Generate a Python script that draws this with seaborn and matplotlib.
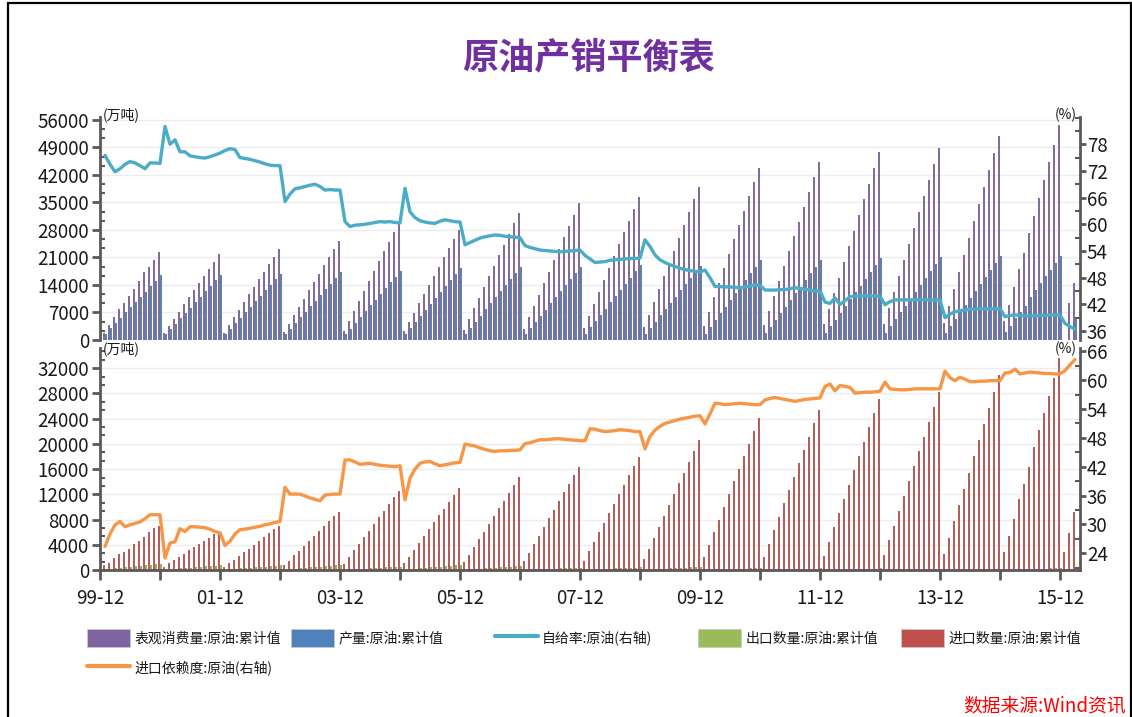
import matplotlib
matplotlib.use("Agg")
import matplotlib.pyplot as plt
import matplotlib.patches as mpatches
from matplotlib.lines import Line2D
from matplotlib.ticker import MultipleLocator
import numpy as np
import pandas as pd
import seaborn as sns

nan = np.nan

# monthly points, 2000-01 .. 2016-03
months = pd.period_range("2000-01", "2016-03", freq="M").strftime("%y-%m").tolist()

# 表观消费量:原油:累计值 (万吨)
consumption = [
    1850, 3820, 5940, 7800, 9500, 11200, 12980, 15100, 17230, 18660, 20360, 22470,
    1780, 3600, 5450, 7250, 9100, 10950, 12700, 14550, 16400, 18150, 19950, 21800,
    1900, 3850, 5800, 7700, 9650, 11600, 13500, 15450, 17400, 19300, 21250, 23150,
    2050, 4150, 6300, 8400, 10500, 12650, 14750, 16900, 19000, 21100, 23200, 25280,
    2400, 4900, 7450, 9950, 12450, 14950, 17500, 20000, 22550, 25050, 27550, 30100,
    2300, 4600, 6950, 9300, 11650, 14000, 16300, 18650, 21000, 23300, 25650, 28000,
    2650, 5350, 8050, 10750, 13450, 16200, 18900, 21600, 24300, 27000, 29700, 32400,
    2850, 5750, 8650, 11550, 14450, 17400, 20300, 23200, 26100, 29000, 31900, 34790,
    3000, 6050, 9100, 12150, 15200, 18250, 21300, 24350, 27400, 30400, 33450, 36480,
    3200, 6450, 9750, 13000, 16250, 19500, 22750, 26000, 29300, 32550, 35800, 39030,
    3600, 7250, 10950, 14600, 18250, 21900, 25600, 29250, 32900, 36550, 40200, 43860,
    3750, 7500, 11300, 15050, 18850, 22600, 26350, 30150, 33900, 37650, 41450, 45210,
    3950, 7950, 11950, 15900, 19900, 23900, 27850, 31850, 35800, 39800, 43800, 47760,
    4050, 8100, 12200, 16250, 20300, 24400, 28450, 32500, 36600, 40650, 44700, 48780,
    4300, 8650, 13000, 17300, 21650, 25950, 30300, 34600, 38950, 43250, 47600, 51920,
    4900, 8900, 13400, 18000, 22050, 27150, 31550, 36050, 40700, 45400, 49650, 54720,
    nan, 9500, 14430,
]

# 产量:原油:累计值 (万吨)
production = [
    1450, 2970, 4240, 5680, 7130, 8480, 9580, 10940, 12300, 13740, 15100, 16540,
    1400, 2750, 4150, 5500, 6900, 8250, 9650, 11000, 12400, 13800, 15150, 16540,
    1400, 2800, 4200, 5600, 7000, 8400, 9800, 11200, 12600, 14000, 15400, 16800,
    1450, 2850, 4300, 5750, 7150, 8600, 10050, 11500, 12900, 14350, 15800, 17220,
    1450, 2900, 4400, 5850, 7300, 8800, 10250, 11700, 13150, 14650, 16100, 17560,
    1500, 3050, 4550, 6100, 7600, 9100, 10650, 12150, 13700, 15200, 16700, 18240,
    1550, 3100, 4650, 6200, 7800, 9350, 10900, 12450, 14000, 15550, 17100, 18660,
    1550, 3100, 4650, 6200, 7750, 9300, 10900, 12450, 14000, 15550, 17100, 18660,
    1600, 3200, 4750, 6350, 7950, 9550, 11150, 12700, 14300, 15900, 17500, 19090,
    1550, 3100, 4700, 6250, 7850, 9450, 11050, 12650, 14200, 15800, 17350, 18920,
    1650, 3350, 5050, 6750, 8450, 10150, 11850, 13550, 15250, 16950, 18650, 20360,
    1700, 3400, 5100, 6800, 8500, 10200, 11900, 13600, 15250, 16950, 18650, 20360,
    1750, 3450, 5200, 6950, 8650, 10400, 12100, 13850, 15600, 17300, 19050, 20790,
    1750, 3500, 5250, 7000, 8750, 10500, 12250, 14000, 15750, 17500, 19300, 21050,
    1800, 3550, 5350, 7150, 8900, 10700, 12450, 14250, 16050, 17800, 19600, 21380,
    2100, 3560, 5510, 7030, 8740, 10860, 12730, 14430, 16290, 17820, 19680, 21460,
    nan, nan, 5300,
]

# 出口数量:原油:累计值 (万吨)
exports = [
    90, 170, 260, 340, 430, 520, 600, 690, 780, 860, 950, 1030,
    60, 130, 190, 250, 320, 380, 440, 510, 570, 630, 700, 760,
    60, 120, 180, 240, 300, 360, 420, 480, 540, 600, 660, 720,
    70, 130, 200, 270, 340, 400, 470, 540, 610, 680, 740, 810,
    50, 90, 140, 180, 230, 280, 320, 370, 410, 460, 500, 550,
    70, 130, 200, 270, 340, 400, 470, 540, 610, 680, 740, 810,
    50, 100, 160, 210, 260, 320, 370, 420, 470, 530, 580, 630,
    30, 60, 100, 130, 160, 200, 230, 260, 290, 330, 360, 390,
    40, 70, 110, 140, 180, 210, 250, 280, 320, 350, 390, 420,
    40, 80, 130, 170, 210, 250, 300, 340, 380, 420, 470, 510,
    30, 50, 80, 100, 130, 150, 180, 200, 230, 250, 280, 300,
    20, 40, 60, 80, 100, 130, 150, 170, 190, 210, 230, 250,
    20, 40, 60, 80, 100, 120, 140, 160, 180, 200, 220, 240,
    10, 30, 40, 50, 70, 80, 90, 110, 120, 130, 150, 160,
    5, 10, 15, 20, 25, 30, 35, 40, 45, 50, 55, 60,
    20, 50, 70, 100, 120, 150, 170, 190, 220, 240, 270, 290,
    10, 30, 50,
]

# 进口数量:原油:累计值 (万吨)
imports = [
    740, 1160, 1850, 2490, 2800, 3330, 4070, 4650, 5290, 5980, 6620, 7030,
    520, 1050, 1580, 2100, 2600, 3100, 3600, 4150, 4650, 5150, 5700, 6190,
    500, 1050, 1600, 2200, 2800, 3400, 4000, 4600, 5200, 5800, 6450, 7040,
    750, 1500, 2300, 3050, 3850, 4600, 5400, 6150, 6950, 7700, 8500, 9250,
    1000, 2050, 3100, 4150, 5200, 6250, 7300, 8350, 9400, 10450, 11500, 12600,
    1050, 2100, 3200, 4300, 5350, 6450, 7550, 8650, 9700, 10800, 11900, 12960,
    1200, 2400, 3650, 4850, 6100, 7350, 8550, 9800, 11000, 12250, 13450, 14710,
    1350, 2700, 4050, 5450, 6800, 8200, 9550, 10900, 12300, 13650, 15000, 16400,
    1500, 3000, 4500, 6000, 7500, 9000, 10500, 12000, 13500, 15000, 16450, 17980,
    1700, 3400, 5100, 6850, 8550, 10300, 12000, 13750, 15450, 17200, 18900, 20630,
    2000, 4000, 6000, 8000, 10000, 12000, 14050, 16050, 18050, 20050, 22050, 24070,
    2100, 4200, 6350, 8450, 10550, 12700, 14800, 16900, 19050, 21150, 23250, 25390,
    2250, 4500, 6750, 9050, 11300, 13550, 15800, 18100, 20350, 22600, 24850, 27140,
    2350, 4700, 7050, 9400, 11750, 14100, 16450, 18800, 21150, 23500, 25850, 28200,
    2550, 5100, 7700, 10250, 12850, 15400, 18000, 20550, 23150, 25700, 28250, 30840,
    2900, 5450, 8090, 11220, 13650, 16400, 19470, 22220, 24970, 27610, 30420, 33590,
    2900, 5920, 9150,
]

# 自给率:原油 (%)
self_sufficiency = [
    75.5, 73.5, 71.8, 72.5, 73.5, 74.1, 73.8, 73.2, 72.5, 73.8, 73.8, 73.7,
    82.0, 78.0, 79.0, 76.3, 76.3, 75.4, 75.2, 75.0, 74.9, 75.2, 75.6, 76.0,
    76.6, 77.0, 76.8, 75.0, 74.8, 74.6, 74.3, 74.0, 73.6, 73.3, 73.2, 73.2,
    65.1, 66.8, 68.0, 68.2, 68.5, 68.8, 69.0, 68.5, 67.7, 67.8, 67.7, 67.7,
    60.6, 59.5, 59.8, 59.9, 60.0, 60.2, 60.4, 60.6, 60.5, 60.6, 60.4, 60.3,
    68.1, 62.8, 61.5, 60.8, 60.5, 60.3, 60.2, 60.7, 61.0, 60.8, 60.6, 60.5,
    55.4, 55.9, 56.4, 56.9, 57.2, 57.4, 57.6, 57.5, 57.3, 57.2, 57.1, 57.0,
    55.2, 54.8, 54.5, 54.2, 54.1, 54.0, 53.9, 53.8, 53.9, 54.0, 54.1, 54.2,
    53.0, 52.2, 51.4, 51.5, 51.6, 51.9, 52.0, 52.1, 52.2, 52.3, 52.3, 52.4,
    56.5, 55.0, 53.1, 52.0, 51.4, 50.9, 50.5, 50.1, 49.8, 49.6, 49.4, 49.3,
    49.7, 48.0, 46.0, 46.0, 45.9, 45.9, 45.8, 45.7, 45.9, 46.1, 46.3, 46.3,
    45.2, 45.2, 45.2, 45.3, 45.3, 45.5, 45.7, 45.6, 45.4, 45.2, 45.0, 45.0,
    42.5, 42.2, 43.4, 42.0, 42.8, 43.7, 43.8, 43.9, 43.9, 43.9, 43.9, 43.8,
    41.9, 42.6, 43.0, 43.0, 43.0, 43.0, 43.0, 43.0, 43.0, 43.0, 43.0, 43.0,
    39.0, 39.8, 40.3, 40.6, 40.7, 40.9, 40.9, 41.0, 41.0, 41.0, 41.0, 41.0,
    39.2, 39.5, 39.6, 39.5, 39.4, 39.4, 39.4, 39.5, 39.5, 39.6, 39.6, 39.6,
    37.7, 37.0, 36.4,
]

# 进口依赖度:原油 (%)
import_dependency = [
    25.4, 28.0, 29.9, 30.6, 29.5, 29.9, 30.2, 30.5, 31.2, 32.0, 32.0, 32.0,
    23.0, 26.1, 26.4, 29.1, 28.5, 29.5, 29.5, 29.4, 29.3, 29.0, 28.5, 28.2,
    25.6, 26.5, 28.0, 28.9, 29.0, 29.2, 29.4, 29.6, 29.9, 30.1, 30.4, 30.6,
    37.7, 36.3, 36.3, 36.3, 35.9, 35.5, 35.2, 34.9, 36.1, 36.2, 36.3, 36.3,
    43.4, 43.4, 43.0, 42.5, 42.6, 42.7, 42.5, 42.3, 42.2, 42.1, 42.0, 42.2,
    35.1, 39.6, 41.5, 42.7, 43.0, 43.1, 42.6, 42.2, 42.4, 42.6, 42.8, 42.9,
    46.7, 46.5, 46.3, 45.9, 45.6, 45.3, 45.2, 45.3, 45.3, 45.4, 45.4, 45.5,
    46.8, 47.0, 47.3, 47.6, 47.6, 47.7, 47.8, 47.8, 47.7, 47.6, 47.5, 47.4,
    47.4, 49.9, 49.8, 49.5, 49.3, 49.4, 49.5, 49.7, 49.6, 49.5, 49.3, 49.3,
    45.7, 48.3, 49.6, 50.4, 51.0, 51.3, 51.6, 51.9, 52.1, 52.3, 52.5, 52.6,
    50.9, 53.0, 55.2, 55.1, 54.9, 55.0, 55.1, 55.2, 55.1, 55.0, 54.9, 54.9,
    55.9, 56.2, 56.4, 56.2, 56.0, 55.8, 55.6, 55.8, 56.0, 56.1, 56.2, 56.3,
    58.7, 59.2, 57.8, 58.9, 58.7, 58.5, 57.3, 57.4, 57.5, 57.5, 57.6, 57.7,
    59.6, 58.2, 58.1, 58.0, 58.0, 58.1, 58.2, 58.2, 58.2, 58.2, 58.2, 58.2,
    61.9, 60.5, 59.9, 60.6, 60.2, 59.7, 59.7, 59.8, 59.8, 59.9, 59.9, 59.9,
    61.5, 61.6, 62.3, 61.3, 61.5, 61.7, 61.6, 61.5, 61.4, 61.4, 61.3, 61.3,
    62.0, 63.2, 64.3,
]

x_labels = ["99-12", "01-12", "03-12", "05-12", "07-12", "09-12", "11-12", "13-12", "15-12"]

names = {
    "cons": "表观消费量:原油:累计值",
    "prod": "产量:原油:累计值",
    "self": "自给率:原油(右轴)",
    "exp": "出口数量:原油:累计值",
    "imp": "进口数量:原油:累计值",
    "dep": "进口依赖度:原油(右轴)",
}
colors = {
    "cons": "#8064A2",
    "prod": "#4F81BD",
    "self": "#4BACC6",
    "exp": "#9BBB59",
    "imp": "#C0504D",
    "dep": "#F79646",
}

sns.set_theme(style="white")
plt.rcParams["font.family"] = ["Noto Sans CJK SC", "DejaVu Sans"]
plt.rcParams["axes.unicode_minus"] = False

pos = list(range(len(months)))
top_long = pd.DataFrame({"pos": pos, "cons": consumption, "prod": production}).melt(
    id_vars="pos", var_name="series", value_name="value")
bot_long = pd.DataFrame({"pos": pos, "imp": imports, "exp": exports}).melt(
    id_vars="pos", var_name="series", value_name="value")

W_PX, H_PX = 1132, 717
fig = plt.figure(figsize=(W_PX / 100, H_PX / 100), dpi=100)
left, width = 100 / W_PX, 980 / W_PX
ax_top = fig.add_axes([left, 1 - 340 / H_PX, width, 223.3 / H_PX])
ax_bot = fig.add_axes([left, 1 - 570 / H_PX, width, 222 / H_PX])

bar_kw = dict(x="pos", y="value", hue="series", order=pos, width=0.8, gap=0.4,
              linewidth=0, errorbar=None, legend=False)
sns.barplot(data=top_long, hue_order=["cons", "prod"],
            palette=[colors["cons"], colors["prod"]], ax=ax_top, **bar_kw)
sns.barplot(data=bot_long, hue_order=["imp", "exp"],
            palette=[colors["imp"], colors["exp"]], ax=ax_bot, **bar_kw)

ax_top_r = ax_top.twinx()
ax_bot_r = ax_bot.twinx()
sns.lineplot(x=pos, y=self_sufficiency, ax=ax_top_r, color=colors["self"], linewidth=2.4)
sns.lineplot(x=pos, y=import_dependency, ax=ax_bot_r, color=colors["dep"], linewidth=2.4)

spine_c = "#5a5a5a"
tick_font = 13.5
for ax in (ax_top, ax_bot, ax_top_r, ax_bot_r):
    ax.set_xlim(-1, 195)
    ax.set_xlabel("")
    ax.set_ylabel("")
    for s in ax.spines.values():
        s.set_visible(False)

for ax in (ax_top, ax_bot):
    ax.spines["left"].set_visible(True)
    ax.spines["left"].set_color(spine_c)
    ax.spines["left"].set_linewidth(2)
    ax.grid(axis="y", color="#ececec", linewidth=1)
    ax.grid(axis="x", visible=False)
    ax.set_axisbelow(True)
    ax.tick_params(axis="y", which="major", direction="out", length=6, width=2,
                   color=spine_c, labelsize=tick_font, labelcolor="#1a1a1a", pad=2, left=True)
    ax.tick_params(axis="y", which="minor", direction="in", length=3.5, width=1.5,
                   color=spine_c, left=True)

for ax in (ax_top_r, ax_bot_r):
    ax.spines["right"].set_visible(True)
    ax.spines["right"].set_color(spine_c)
    ax.spines["right"].set_linewidth(2)
    ax.grid(False)
    ax.yaxis.set_minor_locator(MultipleLocator(3))
    ax.tick_params(axis="y", which="major", direction="out", length=4, width=2,
                   color=spine_c, labelsize=tick_font, labelcolor="#1a1a1a", pad=1, right=True)
    ax.tick_params(axis="y", which="minor", direction="in", length=3.5, width=1.5,
                   color=spine_c, right=True)

ax_top.set_ylim(0, 56830)
ax_top.set_yticks(np.arange(0, 56001, 7000))
ax_top.yaxis.set_minor_locator(MultipleLocator(7000 / 3))
ax_top_r.set_ylim(33.97, 84.2)
ax_top_r.set_yticks(np.arange(36, 79, 6))

ax_bot.set_ylim(0, 35200)
ax_bot.set_yticks(np.arange(0, 32001, 4000))
ax_bot.yaxis.set_minor_locator(MultipleLocator(4000 / 3))
ax_bot_r.set_ylim(20.5, 66.7)
ax_bot_r.set_yticks(np.arange(24, 67, 6))

ax_top.tick_params(axis="x", which="both", bottom=False, labelbottom=False)
for ax in (ax_top_r, ax_bot_r):
    ax.tick_params(axis="x", which="both", bottom=False, top=False,
                   labelbottom=False, labeltop=False)

ax_bot.spines["bottom"].set_visible(True)
ax_bot.spines["bottom"].set_color(spine_c)
ax_bot.spines["bottom"].set_linewidth(2)
ax_bot.set_xticks(np.arange(-1, 192, 24), x_labels)
ax_bot.set_xticks(np.arange(11, 192, 24), minor=True)
ax_bot.tick_params(axis="x", which="both", direction="out", length=7, width=2,
                   color=spine_c, labelsize=tick_font, labelcolor="#1a1a1a", pad=6, bottom=True)

# unit labels
unit_kw = dict(fontsize=10, color="#1a1a1a", va="center")
fig.text(103 / W_PX, 1 - 115 / H_PX, "(万吨)", ha="left", **unit_kw)
fig.text(1077 / W_PX, 1 - 115 / H_PX, "(%)", ha="right", **unit_kw)
fig.text(103 / W_PX, 1 - 349 / H_PX, "(万吨)", ha="left", **unit_kw)
fig.text(1077 / W_PX, 1 - 349 / H_PX, "(%)", ha="right", **unit_kw)

fig.text(589 / W_PX, 1 - 58 / H_PX, "原油产销平衡表", fontsize=26, fontweight="bold",
         color="#7030A0", ha="center", va="center")

# legend items placed one by one
legend_items = [
    ("cons", "patch", 87, 638), ("prod", "patch", 291, 638), ("self", "line", 495, 638),
    ("exp", "patch", 698, 638), ("imp", "patch", 901, 638), ("dep", "line", 87, 668),
]
for key, kind, lx, ly in legend_items:
    if kind == "patch":
        h = mpatches.Patch(facecolor=colors[key], edgecolor="#c8c8c8", linewidth=0.6)
    else:
        h = Line2D([0], [0], color=colors[key], linewidth=3)
    fig.legend(handles=[h], labels=[names[key]], loc="center left",
               bbox_to_anchor=(lx / W_PX, 1 - ly / H_PX), frameon=False, fontsize=10,
               handlelength=3.1, handleheight=1.55, handletextpad=0.3,
               borderpad=0, borderaxespad=0, labelcolor="#1a1a1a")

fig.text(1126 / W_PX, 1 - 706 / H_PX, "数据来源:Wind资讯", color="red", fontsize=13.5,
         style="italic", ha="right", va="center")

fig.add_artist(mpatches.Rectangle((8 / W_PX, -0.02), (1131 - 8) / W_PX, 1.02 - 3 / H_PX,
                                  transform=fig.transFigure, fill=False,
                                  edgecolor="black", linewidth=1.6))

fig.savefig("out.png", dpi=100)
